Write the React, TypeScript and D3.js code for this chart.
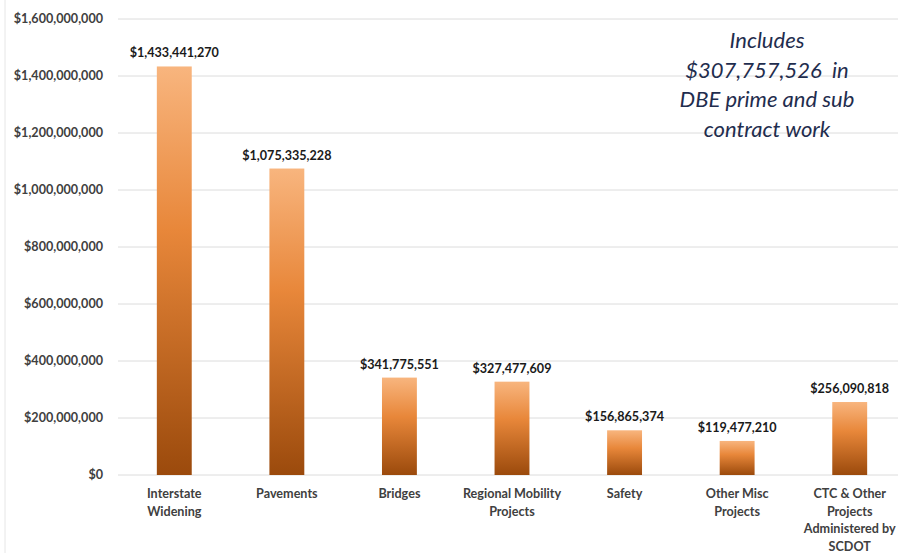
import React from "react";
import * as d3 from "d3";

const categories: string[][] = [
  ["Interstate", "Widening"],
  ["Pavements"],
  ["Bridges"],
  ["Regional Mobility", "Projects"],
  ["Safety"],
  ["Other Misc", "Projects"],
  ["CTC & Other", "Projects", "Administered by", "SCDOT"],
];
const values: number[] = [1433441270, 1075335228, 341775551, 327477609, 156865374, 119477210, 256090818];
const yTicks: number[] = [0, 200000000, 400000000, 600000000, 800000000, 1000000000, 1200000000, 1400000000, 1600000000];
const noteLines: string[] = ["Includes", "$307,757,526\u00a0\u00a0in", "DBE prime and sub", "contract work"];

const W = 898;
const H = 553;

export default function App() {
  const y = d3.scaleLinear().domain([0, 1600000000]).range([475, 19]);
  const x = d3
    .scaleBand<number>()
    .domain(values.map((_, i) => i))
    .range([118, 906])
    .paddingInner(0.69)
    .paddingOuter(0.345);
  const fmt = (v: number) => "$" + d3.format(",")(v);
  const font = "Lato, 'Open Sans', sans-serif";
  return (
    <svg width={W} height={H} style={{ position: "absolute", left: 0, top: 0, background: "#fff" }}>
      <defs>
        <linearGradient id="barGrad" x1="0" y1="0" x2="0" y2="1">
          <stop offset="0%" stopColor="#f8b57e" />
          <stop offset="40%" stopColor="#e8873a" />
          <stop offset="100%" stopColor="#9b4a0c" />
        </linearGradient>
      </defs>
      <line x1={5} x2={5} y1={0} y2={H} stroke="#e6e6e6" strokeWidth={1} />
      {yTicks.map((t) => (
        <g key={t}>
          <line x1={118} x2={W} y1={y(t)} y2={y(t)} stroke="#dcdcdc" strokeWidth={1} />
          <text
            x={103}
            y={y(t)}
            dy="0.35em"
            textAnchor="end"
            fontFamily={font}
            fontWeight="bold"
            fontSize={12.6}
            fill="#404040"
          >
            {fmt(t)}
          </text>
        </g>
      ))}
      {values.map((v, i) => {
        const bx = x(i)!;
        const bw = x.bandwidth();
        const cx = bx + bw / 2;
        return (
          <g key={i}>
            <rect x={bx} y={y(v)} width={bw} height={y(0) - y(v)} fill="url(#barGrad)" />
            <text
              x={cx}
              y={y(v) - 9}
              textAnchor="middle"
              fontFamily={font}
              fontWeight="bold"
              fontSize={12.6}
              fill="#1a1a1a"
            >
              {fmt(v)}
            </text>
            {categories[i].map((line, j) => (
              <text
                key={j}
                x={cx}
                y={498 + j * 17.5}
                textAnchor="middle"
                fontFamily={font}
                fontWeight="bold"
                fontSize={12.6}
                fill="#404040"
              >
                {line}
              </text>
            ))}
          </g>
        );
      })}
      {noteLines.map((l, i) => (
        <text
          key={i}
          x={767}
          y={48 + i * 29.5}
          textAnchor="middle"
          fontFamily={font}
          fontStyle="italic"
          fontSize={22}
          fill="#1f2d4e"
        >
          {l}
        </text>
      ))}
    </svg>
  );
}
